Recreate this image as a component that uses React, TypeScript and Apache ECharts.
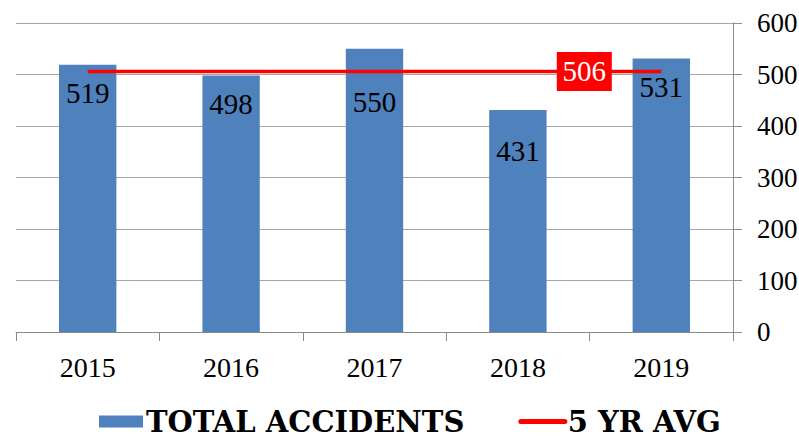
import React, { useEffect, useRef } from "react";
import * as echarts from "echarts";

const years = ["2015", "2016", "2017", "2018", "2019"];
const totalAccidents = [519, 498, 550, 431, 531];
const fiveYrAvg = [506, 506, 506, 506, 506];
const seriesNames = ["TOTAL ACCIDENTS", "5 YR AVG"];
// extra label offsets (px) used in the original to move some labels down
const labelDistance = [13.5, 14, 38.5, 26.5, 14];

const FONT = "Liberation Serif";

export default function App() {
  const ref = useRef<HTMLDivElement>(null);
  useEffect(() => {
    if (!ref.current) return;
    const chart = echarts.init(ref.current, undefined, { renderer: "svg" });
    chart.setOption({
      animation: false,
      textStyle: { fontFamily: FONT },
      grid: { left: 16, right: 66, top: 23, bottom: 113, containLabel: false, outerBoundsMode: "none" },
      legend: {
        bottom: 4,
        left: 94,
        itemGap: 54,
        itemWidth: 44,
        itemHeight: 12,
        textStyle: { fontFamily: "DejaVu Serif", fontSize: 29, fontWeight: "bold", color: "#000", padding: [0, 0, 0, -2] },
        data: [
          { name: seriesNames[0], icon: "rect" },
          { name: seriesNames[1], itemStyle: { opacity: 0 }, lineStyle: { width: 5, cap: "round" } },
        ],
      },
      xAxis: {
        type: "category",
        data: years,
        boundaryGap: true,
        axisLine: { lineStyle: { color: "#8c8c8c", width: 1 } },
        axisTick: { show: true, length: 9, lineStyle: { color: "#8c8c8c" } },
        axisLabel: { fontFamily: FONT, fontSize: 28, color: "#000", margin: 21 },
      },
      yAxis: {
        type: "value",
        position: "right",
        min: 0,
        max: 600,
        interval: 100,
        axisLine: { show: true, lineStyle: { color: "#8c8c8c" } },
        axisTick: { show: true, length: 9, lineStyle: { color: "#8c8c8c" } },
        splitLine: { show: true, lineStyle: { color: "#a6a6a6", width: 1 } },
        axisLabel: { fontFamily: FONT, fontSize: 27, color: "#000", margin: 24 },
      },
      series: [
        {
          name: seriesNames[0],
          type: "bar",
          data: totalAccidents.map((v, i) => ({
            value: v,
            label: { distance: labelDistance[i] },
          })),
          barWidth: "40%",
          itemStyle: { color: "#4F81BD" },
          label: {
            show: true,
            position: "insideTop",
            fontFamily: FONT,
            fontSize: 29,
            color: "#000",
          },
          z: 1,
        },
        {
          name: seriesNames[1],
          type: "line",
          data: fiveYrAvg,
          symbol: "none",
          lineStyle: { color: "#FF0000", width: 3.5 },
          itemStyle: { color: "#FF0000" },
          z: 3,
          markPoint: {
            symbol: "rect",
            symbolSize: [55, 39],
            symbolOffset: [-77, 0],
            itemStyle: { color: "#FF0000" },
            label: {
              show: true,
              position: "inside",
              fontFamily: FONT,
              fontSize: 29,
              color: "#fff",
              formatter: "{c}",
            },
            data: [{ coord: [years.length - 1, fiveYrAvg[fiveYrAvg.length - 1]], value: fiveYrAvg[fiveYrAvg.length - 1] }],
          },
        },
      ],
    });
    return () => chart.dispose();
  }, []);
  return <div ref={ref} style={{ width: 799, height: 445, position: "absolute", left: 0, top: 0 }} />;
}
